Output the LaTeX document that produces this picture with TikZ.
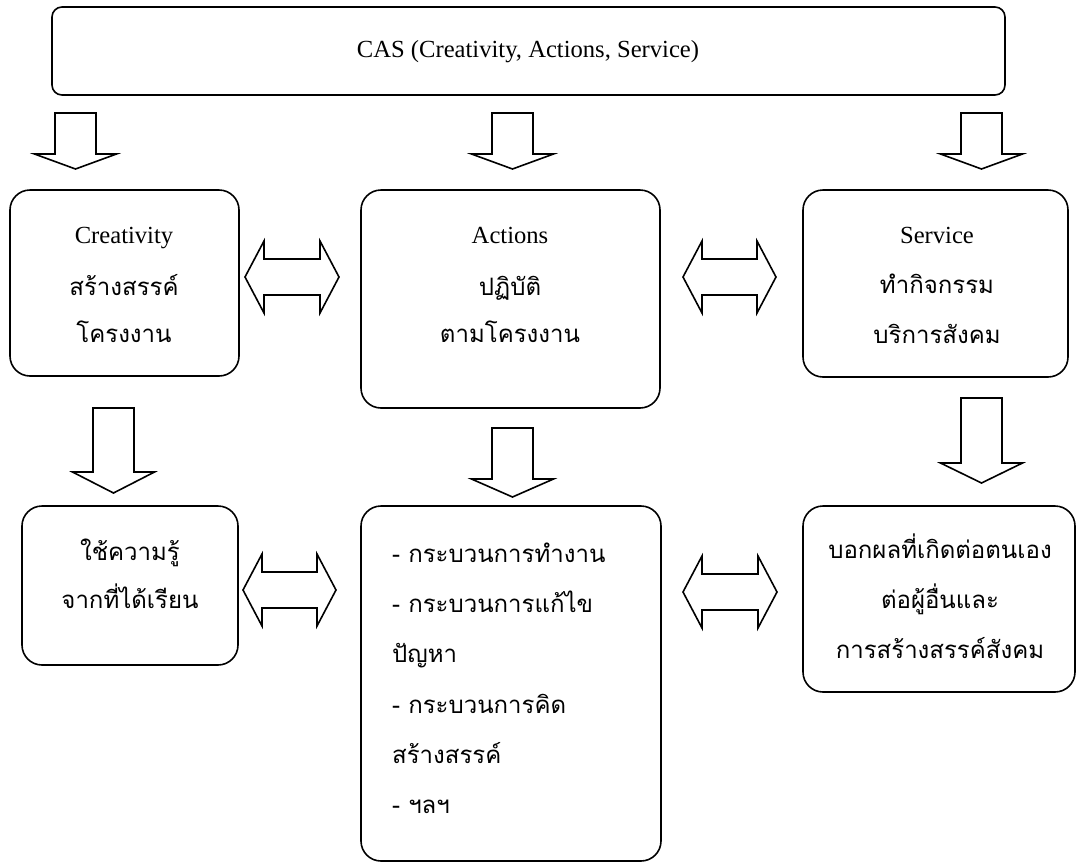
\documentclass[tikz,border=0pt]{standalone}
\usepackage{fontspec}
\setmainfont{Liberation Serif}
\newfontfamily\thaifont[Script=Thai]{Loma}
\newcommand\dnarrow[4]{%
  \draw[blk] (#1-20.5,#2) -- (#1+20.5,#2) -- (#1+20.5,#3) -- (#1+41,#3) -- (#1,#4) -- (#1-41,#3) -- (#1-20.5,#3) -- cycle;}
\newcommand\lrarrow[3]{%
  \draw[blk] (#1,#3) -- (#1+19,#3-36) -- (#1+19,#3-18) -- (#2-19,#3-18) -- (#2-19,#3-36) -- (#2,#3) -- (#2-19,#3+36) -- (#2-19,#3+18) -- (#1+19,#3+18) -- (#1+19,#3+36) -- cycle;}
\begin{document}
\begin{tikzpicture}[x=1pt,y=-1pt,
  box/.style={draw, line width=1.6pt, rounded corners=20pt, inner sep=0pt},
  blk/.style={draw, line width=1.6pt, fill=white},
  lat/.style={anchor=base, inner sep=0pt, font=\fontsize{24.6}{28}\selectfont},
  th/.style={anchor=base, inner sep=0pt, font=\thaifont\fontsize{24}{28}\selectfont},
  thl/.style={anchor=base west, inner sep=0pt, font=\thaifont\fontsize{24}{28}\selectfont}]
\useasboundingbox (0,0) rectangle (1077,863);
% boxes
\node[box, rounded corners=10pt, minimum width=953pt, minimum height=88pt] (cas) at (528.5,51) {};
\node[box, minimum width=229pt, minimum height=186pt] (cre) at (124.5,283) {};
\node[box, minimum width=299pt, minimum height=218pt] (act) at (510.5,299) {};
\node[box, minimum width=265pt, minimum height=187pt] (ser) at (935.5,283.5) {};
\node[box, minimum width=216pt, minimum height=159pt] (use) at (130,585.5) {};
\node[box, minimum width=300pt, minimum height=355pt] (proc) at (511,683.5) {};
\node[box, minimum width=272pt, minimum height=186pt] (res) at (939,599) {};
% texts
\node[lat] (t0) at (528,57) {CAS (Creativity, Actions, Service)};
\node[lat] (t1a) at (124,243) {Creativity};
\node[th] (t1b) at (124,295) {สร้างสรรค์};
\node[th] (t1c) at (124,342) {โครงงาน};
\node[lat] (t2a) at (510,243) {Actions};
\node[th] (t2b) at (510,295) {ปฏิบัติ};
\node[th] (t2c) at (510,342) {ตามโครงงาน};
\node[lat] (t3a) at (937,243) {Service};
\node[th] (t3b) at (937,293) {ทำกิจกรรม};
\node[th] (t3c) at (937,343) {บริการสังคม};
\node[th] (t4a) at (130,560) {ใช้ความรู้};
\node[th] (t4b) at (130,608) {จากที่ได้เรียน};
\node[thl] (t5a) at (392,562) {- กระบวนการทำงาน};
\node[thl] (t5b) at (392,612) {- กระบวนการแก้ไข};
\node[thl] (t5c) at (392,662) {ปัญหา};
\node[thl] (t5d) at (392,713) {- กระบวนการคิด};
\node[thl] (t5e) at (392,763) {สร้างสรรค์};
\node[thl] (t5f) at (392,813) {- ฯลฯ};
\node[th] (t6a) at (940,558) {บอกผลที่เกิดต่อตนเอง};
\node[th] (t6b) at (940,608) {ต่อผู้อื่นและ};
\node[th] (t6c) at (940,658) {การสร้างสรรค์สังคม};
% down arrows
\dnarrow{75.5}{113}{154}{169}
\dnarrow{512.5}{113}{154}{169}
\dnarrow{981.5}{113}{154}{169}
\dnarrow{113.5}{408}{472}{493}
\dnarrow{512.5}{428}{479}{497}
\dnarrow{981.5}{398}{463}{483}
% double arrows
\lrarrow{245}{339}{277}
\lrarrow{683}{776}{277}
\lrarrow{243}{336}{590}
\lrarrow{683}{777}{592}
\end{tikzpicture}
\end{document}
